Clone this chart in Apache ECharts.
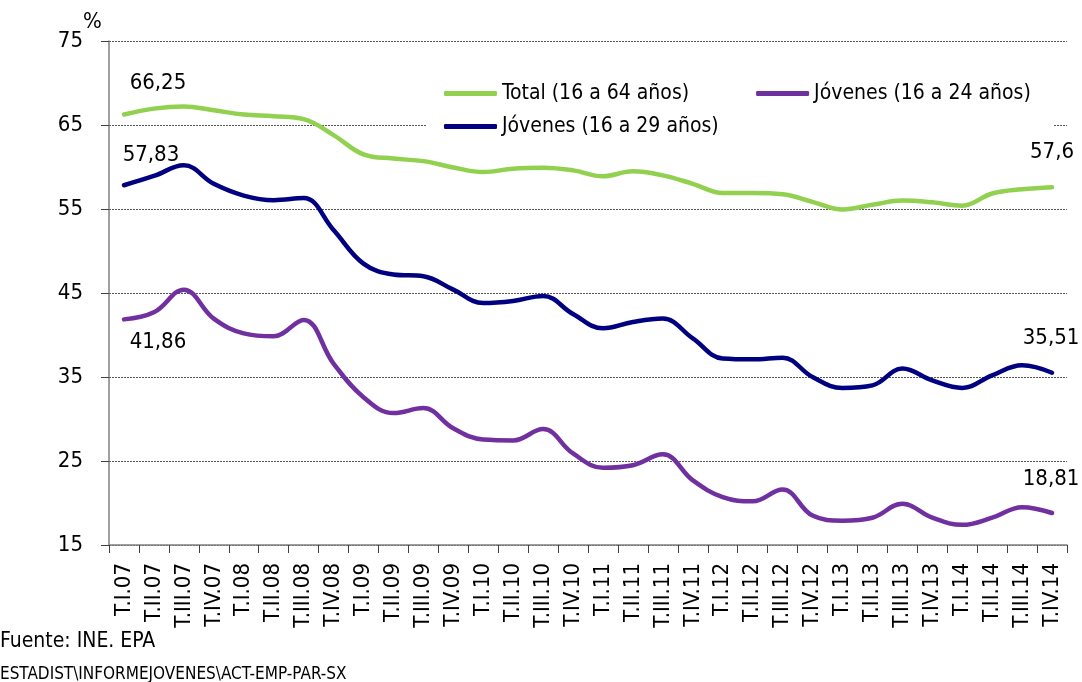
<!DOCTYPE html>
<html>
<head>
<meta charset="utf-8">
<title>Tasa de empleo</title>
<script src="https://cdn.jsdelivr.net/npm/echarts@6/dist/echarts.min.js"></script>
<style>
  html, body { margin: 0; padding: 0; background: #fff; }
  #chart { width: 1082px; height: 682px; }
</style>
</head>
<body>
<div id="chart"></div>
<script>
// trimestres
const quarters = [
  'T.I.07', 'T.II.07', 'T.III.07', 'T.IV.07',
  'T.I.08', 'T.II.08', 'T.III.08', 'T.IV.08',
  'T.I.09', 'T.II.09', 'T.III.09', 'T.IV.09',
  'T.I.10', 'T.II.10', 'T.III.10', 'T.IV.10',
  'T.I.11', 'T.II.11', 'T.III.11', 'T.IV.11',
  'T.I.12', 'T.II.12', 'T.III.12', 'T.IV.12',
  'T.I.13', 'T.II.13', 'T.III.13', 'T.IV.13',
  'T.I.14', 'T.II.14', 'T.III.14', 'T.IV.14'
]

// Total (16 a 64 años)
const total = [
  66.25, 66.95, 67.2, 66.75, 66.25, 66.05, 65.7, 63.8,
  61.5, 61.0, 60.7, 59.95, 59.4, 59.8, 59.9, 59.6,
  58.9, 59.5, 59.0, 58.0, 56.9, 56.9, 56.75, 55.85,
  54.95, 55.5, 56.0, 55.8, 55.4, 56.85, 57.35, 57.6
]

// Jóvenes (16 a 24 años)
const jovenes24 = [
  41.86, 42.7, 45.4, 41.95, 40.2, 39.85, 41.8, 36.6,
  32.6, 30.7, 31.3, 28.9, 27.55, 27.45, 28.8, 25.9,
  24.2, 24.5, 25.8, 22.7, 20.7, 20.2, 21.6, 18.5,
  17.9, 18.25, 19.9, 18.25, 17.4, 18.25, 19.5, 18.81
]

// Jóvenes (16 a 29 años)
const jovenes29 = [
  57.83, 58.93, 60.2, 58.0, 56.6, 56.05, 56.3, 52.5,
  48.5, 47.2, 47.0, 45.4, 43.8, 44.05, 44.65, 42.5,
  40.8, 41.55, 41.95, 39.6, 37.2, 37.1, 37.3, 35.0,
  33.7, 34.0, 36.0, 34.6, 33.7, 35.2, 36.4, 35.51
]

const yTicks = { min: 15, max: 75, step: 10 }

const FONT = 'DejaVu Sans Condensed'

// etiquetas del primer y último punto
function withLabels (values, first, last) {
  const lastIdx = values.length - 1
  return values.map((v, i) => {
    if (i === 0 && first) return { value: v, label: Object.assign({ show: true }, first) }
    if (i === lastIdx && last) return { value: v, label: Object.assign({ show: true }, last) }
    return v
  })
}

function lineSeries (name, color, data) {
  return {
    name: name,
    type: 'line',
    smooth: 0.4,
    showSymbol: true,
    symbol: 'circle',
    symbolSize: 0.1,
    itemStyle: { color: color },
    lineStyle: { color: color, width: 4.5, cap: 'round' },
    label: {
      show: false,
      color: '#000',
      fontFamily: FONT,
      fontSize: 22,
      formatter: p => String(p.value).replace('.', ',')
    },
    emphasis: { disabled: true },
    data: data
  }
}

const legendText = { fontFamily: FONT, fontSize: 21, color: '#000' }

const chart = echarts.init(document.getElementById('chart'))

chart.setOption({
  animation: false,
  backgroundColor: '#fff',
  textStyle: { fontFamily: FONT, color: '#000' },
  grid: { left: 109, right: 15, top: 41, bottom: 137 },
  legend: [
    {
      data: ['Total (16 a 64 años)', 'Jóvenes (16 a 24 años)'],
      left: 439,
      top: 78,
      itemGap: 67,
      itemWidth: 53,
      itemHeight: 5,
      icon: 'roundRect',
      textStyle: legendText,
      selectedMode: false
    },
    {
      data: ['Jóvenes (16 a 29 años)'],
      left: 439,
      top: 111,
      itemWidth: 53,
      itemHeight: 5,
      icon: 'roundRect',
      textStyle: legendText,
      selectedMode: false
    }
  ],
  xAxis: {
    type: 'category',
    data: quarters,
    boundaryGap: true,
    axisLine: { lineStyle: { color: '#808080', width: 1.5 } },
    axisTick: { show: true, length: 8, lineStyle: { color: '#404040' } },
    axisLabel: {
      interval: 0,
      rotate: 90,
      margin: 18,
      fontFamily: FONT,
      fontSize: 22,
      color: '#000'
    }
  },
  yAxis: {
    type: 'value',
    min: yTicks.min,
    max: yTicks.max,
    interval: yTicks.step,
    axisLine: { show: true, lineStyle: { color: '#808080', width: 1.5 } },
    axisTick: { show: true, length: 8, lineStyle: { color: '#404040' } },
    axisLabel: { fontFamily: FONT, fontSize: 22, color: '#000', margin: 26 },
    splitLine: { show: true, lineStyle: { color: '#555', type: [2, 1], width: 1 } }
  },
  graphic: [
    // hueco blanco bajo la leyenda
    { type: 'rect', z: 3, shape: { x: 427, y: 70, width: 626, height: 68 }, style: { fill: '#fff' } },
    { type: 'text', left: 83, top: 11, style: { text: '%', fontFamily: FONT, fontSize: 22, fill: '#000' } },
    { type: 'text', left: 0, top: 631, style: { text: 'Fuente: INE. EPA', fontFamily: FONT, fontSize: 21, fill: '#000' } },
    { type: 'text', left: 0, top: 666, style: { text: 'ESTADIST\\INFORMEJOVENES\\ACT-EMP-PAR-SX', fontFamily: FONT, fontSize: 17, fill: '#000' } }
  ],
  series: [
    lineSeries('Total (16 a 64 años)', '#92D050',
      withLabels(total, { position: 'top', offset: [34, -15] }, { position: 'top', offset: [0, -19] })),
    lineSeries('Jóvenes (16 a 24 años)', '#7030A0',
      withLabels(jovenes24, { position: 'bottom', offset: [34, 7] }, { position: 'top', offset: [-1, -18] })),
    lineSeries('Jóvenes (16 a 29 años)', '#000080',
      withLabels(jovenes29, { position: 'top', offset: [27, -14] }, { position: 'top', offset: [-1, -18] }))
  ]
})
</script>
</body>
</html>
